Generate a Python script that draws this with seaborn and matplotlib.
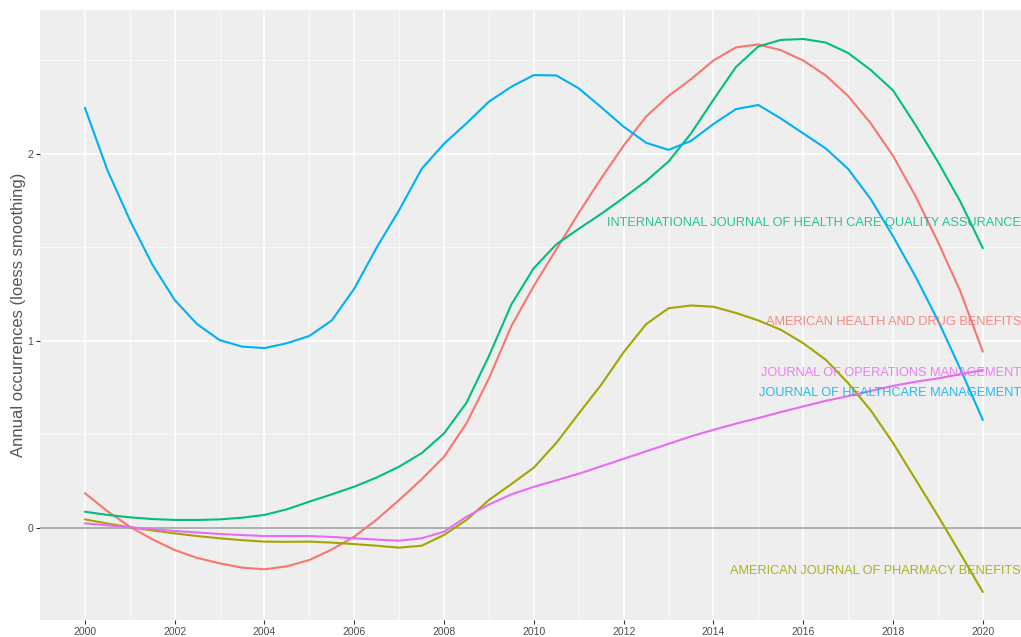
import pandas as pd
import seaborn as sns
import matplotlib.pyplot as plt

# half-year values, 2000 .. 2020
years = [2000 + 0.5 * i for i in range(41)]

health_drug = [0.186, 0.09, 0.007, -0.06, -0.118, -0.16, -0.189, -0.212, -0.221, -0.205,
               -0.171, -0.115, -0.046, 0.045, 0.15, 0.26, 0.381, 0.56, 0.80, 1.08,
               1.295, 1.49, 1.685, 1.87, 2.045, 2.20, 2.31, 2.40, 2.50, 2.57,
               2.586, 2.555, 2.50, 2.42, 2.31, 2.165, 1.99, 1.775, 1.53, 1.265, 0.943]
pharmacy = [0.046, 0.024, 0.004, -0.013, -0.029, -0.043, -0.055, -0.065, -0.073, -0.074,
            -0.073, -0.078, -0.086, -0.095, -0.105, -0.095, -0.037, 0.043, 0.15, 0.235,
            0.323, 0.455, 0.612, 0.766, 0.94, 1.09, 1.175, 1.19, 1.183, 1.15,
            1.11, 1.06, 0.988, 0.90, 0.775, 0.63, 0.455, 0.26, 0.065, -0.137, -0.342]
quality = [0.087, 0.07, 0.057, 0.048, 0.043, 0.043, 0.046, 0.055, 0.07, 0.10,
           0.141, 0.18, 0.221, 0.27, 0.328, 0.40, 0.506, 0.67, 0.92, 1.196,
           1.39, 1.517, 1.60, 1.68, 1.766, 1.855, 1.96, 2.11, 2.29, 2.465,
           2.575, 2.61, 2.615, 2.596, 2.54, 2.45, 2.34, 2.155, 1.958, 1.745, 1.496]
healthcare_mgmt = [2.247, 1.915, 1.647, 1.41, 1.219, 1.09, 1.005, 0.97, 0.962, 0.988,
                   1.027, 1.11, 1.28, 1.50, 1.70, 1.92, 2.055, 2.164, 2.28, 2.36,
                   2.422, 2.42, 2.351, 2.25, 2.146, 2.06, 2.022, 2.07, 2.16, 2.24,
                   2.262, 2.19, 2.11, 2.03, 1.92, 1.76, 1.56, 1.345, 1.11, 0.85, 0.578]
operations = [0.025, 0.014, 0.004, -0.006, -0.016, -0.024, -0.032, -0.038, -0.043, -0.043,
              -0.043, -0.048, -0.055, -0.062, -0.068, -0.055, -0.02, 0.06, 0.125, 0.18,
              0.22, 0.255, 0.29, 0.33, 0.37, 0.41, 0.45, 0.49, 0.525, 0.558,
              0.588, 0.62, 0.65, 0.68, 0.705, 0.733, 0.76, 0.782, 0.80, 0.822, 0.845]

journals = ["AMERICAN HEALTH AND DRUG BENEFITS",
            "AMERICAN JOURNAL OF PHARMACY BENEFITS",
            "INTERNATIONAL JOURNAL OF HEALTH CARE QUALITY ASSURANCE",
            "JOURNAL OF HEALTHCARE MANAGEMENT",
            "JOURNAL OF OPERATIONS MANAGEMENT"]
series = [health_drug, pharmacy, quality, healthcare_mgmt, operations]
colors = ["#F8766D", "#A3A500", "#00BF7D", "#00B0F6", "#E76BF3"]
label_y = [1.10, -0.23, 1.63, 0.72, 0.83]

rows = []
for j, vals in zip(journals, series):
    for yr, v in zip(years, vals):
        rows.append({"year": yr, "value": v, "journal": j})
df = pd.DataFrame(rows)

sns.set_theme(style="darkgrid", rc={"axes.facecolor": "#EEEEEE",
                                    "grid.color": "white"})
plt.rcParams["font.family"] = ["Liberation Sans", "DejaVu Sans"]

fig = plt.figure(figsize=(10.21, 6.37), dpi=100)
ax = fig.add_axes([40 / 1021, 17 / 637, 981 / 1021, 610 / 637])

ax.set_xlim(1999.0, 2020.85)
ax.set_ylim(-0.492, 2.77)

ax.set_xticks(range(2000, 2021, 2))
ax.set_xticks(range(2001, 2021, 2), minor=True)
ax.set_yticks([0, 1, 2])
ax.set_yticks([0.5, 1.5, 2.5], minor=True)
ax.grid(which="major", color="white", linewidth=1.1)
ax.grid(which="minor", color="white", linewidth=0.5)

ax.axhline(0, color="#A8A8A8", linewidth=1.3, zorder=1)

sns.lineplot(data=df, x="year", y="value", hue="journal",
             palette=dict(zip(journals, colors)), linewidth=1.5,
             legend=False, ax=ax, zorder=2)

for j, c, ly in zip(journals, colors, label_y):
    ax.text(2020.85, ly, j, color=c, alpha=0.85, fontsize=9.2,
            ha="right", va="center", zorder=3)

for s in ax.spines.values():
    s.set_visible(False)
ax.tick_params(axis="both", which="major", length=3, width=0.8, color="#333333",
               labelcolor="#4D4D4D", labelsize=7.5, pad=2, bottom=True, left=True)
ax.tick_params(axis="both", which="minor", length=0)
ax.set_xlabel("")
ax.set_ylabel("Annual occurrences (loess smoothing)", fontsize=12, color="#555555",
              labelpad=1)

fig.savefig("out.png", dpi=100)
